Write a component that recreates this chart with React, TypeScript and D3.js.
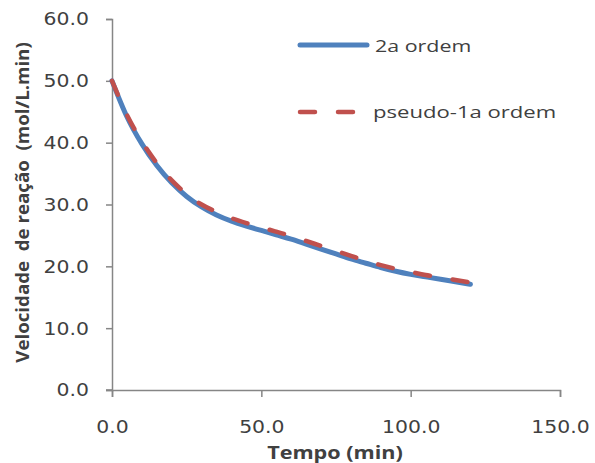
import React, { useEffect, useRef } from 'react';
import * as d3 from 'd3';

// tempo (min)
const tempo = [0, 5, 10, 15, 20, 25, 30, 35, 40, 45, 50, 55, 60, 65, 70, 75, 80, 85, 90, 95, 100, 105, 110, 115, 120];
// 2a ordem
const segundaOrdem = [50, 44.2, 39.8, 36.3, 33.5, 31.3, 29.6, 28.3, 27.3, 26.5, 25.8, 25.1, 24.4, 23.6, 22.8, 22.0, 21.2, 20.5, 19.8, 19.2, 18.7, 18.3, 17.9, 17.5, 17.1];
// pseudo-1a ordem
const pseudoPrimeira = [50, 44.5, 40.2, 36.7, 33.9, 31.7, 30.0, 28.8, 27.8, 27.0, 26.3, 25.6, 24.9, 24.1, 23.3, 22.5, 21.7, 20.9, 20.2, 19.6, 19.1, 18.6, 18.2, 17.8, 17.4];

const xTicks = [0, 50, 100, 150];
const yTicks = [0, 10, 20, 30, 40, 50, 60];

const W = 595;
const H = 463;
const margin = { top: 19, right: 35, bottom: 73, left: 112 };

export default function App() {
  const svgRef = useRef<SVGSVGElement>(null);

  useEffect(() => {
    const svg = d3.select(svgRef.current);
    svg.selectAll('*').remove();

    const innerW = W - margin.left - margin.right;
    const innerH = H - margin.top - margin.bottom;
    const x = d3.scaleLinear().domain([0, 150]).range([0, innerW]);
    const y = d3.scaleLinear().domain([0, 60]).range([innerH, 0]);

    const g = svg.append('g').attr('transform', `translate(${margin.left},${margin.top})`);
    const axisColor = '#868686';
    const textColor = '#404040';
    const sx = 1.2;

    // y axis
    const yAxis = g.append('g').call(d3.axisLeft(y).tickValues(yTicks).tickSize(6).tickFormat(d3.format('.1f')));
    yAxis.select('.domain').attr('stroke', axisColor).attr('stroke-width', 1.5);
    yAxis.selectAll('.tick line').attr('stroke', axisColor).attr('stroke-width', 1.5);
    yAxis.selectAll('.tick text')
      .attr('fill', textColor)
      .attr('font-family', 'DejaVu Sans, Verdana, sans-serif')
      .attr('font-size', 17)
      .attr('x', null)
      .attr('dy', null)
      .attr('dominant-baseline', 'central')
      .attr('transform', `translate(-23,0) scale(${sx},1)`);

    // x axis
    const xAxis = g.append('g').attr('transform', `translate(0,${innerH})`)
      .call(d3.axisBottom(x).tickValues(xTicks).tickSize(7).tickFormat(d3.format('.1f')));
    xAxis.select('.domain').attr('stroke', axisColor).attr('stroke-width', 1.5);
    xAxis.selectAll('.tick line').attr('stroke', axisColor).attr('stroke-width', 1.5);
    xAxis.selectAll('.tick text')
      .attr('fill', textColor)
      .attr('font-family', 'DejaVu Sans, Verdana, sans-serif')
      .attr('font-size', 17)
      .attr('y', null)
      .attr('dy', null)
      .attr('dominant-baseline', 'central')
      .attr('transform', `translate(0,37) scale(${sx},1)`);
    // extend x axis line slightly left like the reference
    xAxis.append('line').attr('x1', -6).attr('x2', 0).attr('stroke', axisColor).attr('stroke-width', 1.5);

    // lines
    const line = d3.line<number>()
      .x((_, i) => x(tempo[i]))
      .y(d => y(d))
      .curve(d3.curveMonotoneX);

    g.append('path')
      .datum(segundaOrdem)
      .attr('d', line)
      .attr('fill', 'none')
      .attr('stroke', '#4F81BD')
      .attr('stroke-width', 5)
      .attr('stroke-linecap', 'round');

    g.append('path')
      .datum(pseudoPrimeira)
      .attr('d', line)
      .attr('fill', 'none')
      .attr('stroke', '#C0504D')
      .attr('stroke-width', 4.5)
      .attr('stroke-linecap', 'round')
      .attr('stroke-dasharray', '15 23');

    // axis titles
    svg.append('text')
      .attr('transform', `translate(${margin.left + innerW / 2 - 1},452) scale(${sx},1)`)
      .attr('text-anchor', 'middle')
      .attr('dominant-baseline', 'central')
      .attr('font-family', 'Open Sans, sans-serif')
      .attr('font-weight', 'bold')
      .attr('font-size', 18)
      .attr('fill', textColor)
      .text('Tempo (min)');

    svg.append('text')
      .attr('transform', `translate(22,${margin.top + innerH / 2 - 2}) rotate(-90) scale(${1.1},1)`)
      .attr('text-anchor', 'middle')
      .attr('dominant-baseline', 'central')
      .attr('font-family', 'Open Sans, sans-serif')
      .attr('font-weight', 'bold')
      .attr('font-size', 17)
      .attr('fill', textColor)
      .style('white-space', 'pre')
      .text('Velocidade  de reação  (mol/L.min)');

    // legend
    const legend = svg.append('g');
    const items = [
      { label: '2a ordem', color: '#4F81BD', dash: null, w: 5, y: 45, s: 1.26 },
      { label: 'pseudo-1a ordem', color: '#C0504D', dash: '15 23', w: 4.5, y: 112, s: 1.3 },
    ];
    items.forEach(it => {
      legend.append('line')
        .attr('x1', 300).attr('x2', it.dash ? 362 : 367)
        .attr('y1', it.y).attr('y2', it.y)
        .attr('stroke', it.color)
        .attr('stroke-width', it.w)
        .attr('stroke-linecap', 'round')
        .attr('stroke-dasharray', it.dash);
      legend.append('text')
        .attr('transform', `translate(${it.dash ? 373 : 375},${it.y}) scale(${it.s},1)`)
        .attr('dominant-baseline', 'central')
        .attr('font-family', 'Open Sans, sans-serif')
        .attr('font-size', 17)
        .attr('fill', textColor)
        .text(it.label);
    });
  }, []);

  return (
    <svg
      ref={svgRef}
      width={W}
      height={H}
      style={{ position: 'absolute', left: 0, top: 0, background: '#fff' }}
    />
  );
}
